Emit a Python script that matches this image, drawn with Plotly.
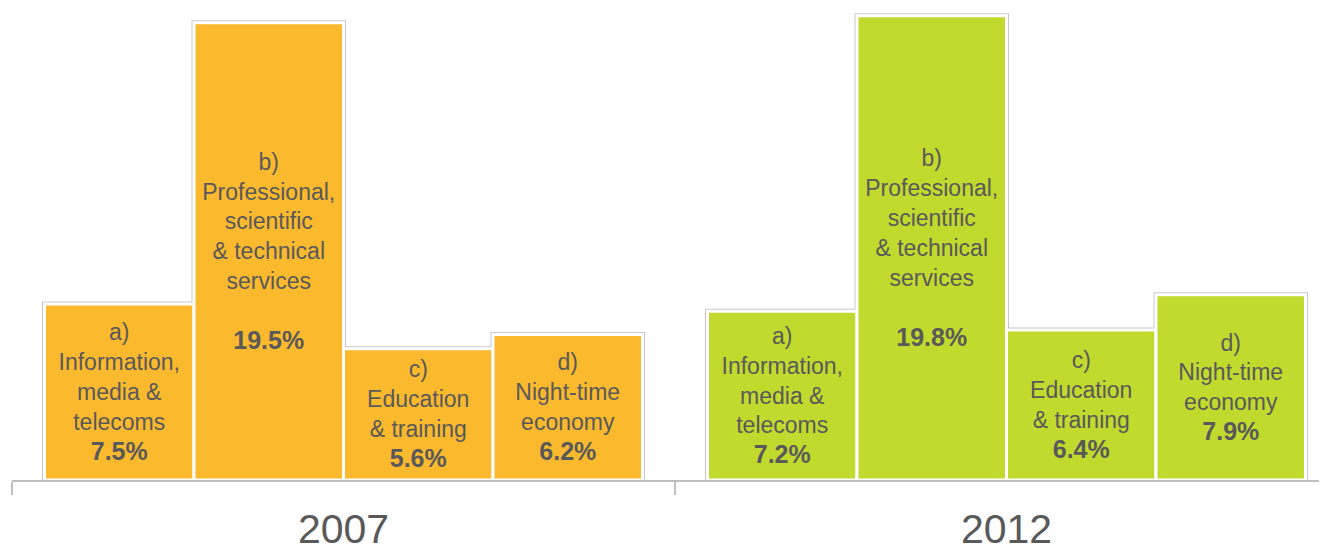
### Import packages into environment.
import plotly.graph_objs as go

# --------------------------------------------------------------------------- #
### Data.

years = ['2007', '2012']
sectors = ['a)<br>Information,<br>media &<br>telecoms',
           'b)<br>Professional,<br>scientific<br>& technical<br>services<br>',
           'c)<br>Education<br>& training',
           'd)<br>Night-time<br>economy']
share_2007 = [7.5, 19.5, 5.6, 6.2]
share_2012 = [7.2, 19.8, 6.4, 7.9]

year_colours = ['#FBB92E', '#C2D92E']
text_grey = '#595959'
axis_grey = '#BFBFBF'

# --------------------------------------------------------------------------- #
### Build one trace per sector (grouped by year).

fig = go.Figure()

for i, label in enumerate(sectors):
    vals = [share_2007[i], share_2012[i]]
    # Thin grey outline behind each bar.
    fig.add_trace(go.Bar(x=years, y=vals, xaxis='x', yaxis='y',
                         marker=dict(color='white',
                                     line=dict(color='#C8C8C8', width=5)),
                         hoverinfo='skip', showlegend=False))

for i, label in enumerate(sectors):
    vals = [share_2007[i], share_2012[i]]
    texts = [label + '<br><span style="font-size:25px"><b>%.1f%%</b></span>' % v
             for v in vals]
    fig.add_trace(go.Bar(x=years, y=vals, xaxis='x2', yaxis='y2',
                         text=texts, textposition='inside',
                         insidetextanchor='middle', textangle=0,
                         textfont=dict(family='Liberation Sans, Arial',
                                       size=23, color=text_grey),
                         marker=dict(color=year_colours,
                                     line=dict(color='white', width=3)),
                         showlegend=False))

# --------------------------------------------------------------------------- #
### Layout (page body has an 8px margin, so the figure is offset by 8px).

xrange = [-0.5, -0.5 + 1315 / 663]
yrange = [0, 472 / 23.45]

fig.update_layout(
    width=1319, height=536,
    margin=dict(l=4, r=0, t=0, b=64),
    paper_bgcolor='white', plot_bgcolor='white',
    barmode='group', bargap=0.098, bargroupgap=0,
    uniformtext=dict(minsize=23, mode='show'),
    xaxis=dict(range=xrange, showline=True, linecolor=axis_grey, linewidth=2,
               ticks='outside', tickson='boundaries', ticklen=13,
               tickcolor=axis_grey, tickwidth=2, showgrid=False,
               ticklabelstandoff=12, automargin=False,
               tickfont=dict(family='Liberation Sans, Arial', size=41,
                             color=text_grey)),
    yaxis=dict(range=yrange, visible=False, automargin=False),
    xaxis2=dict(range=xrange, overlaying='x', visible=False),
    yaxis2=dict(range=yrange, overlaying='y', visible=False),
)

# Plot the data in html format.
fig.write_html('out.html')
